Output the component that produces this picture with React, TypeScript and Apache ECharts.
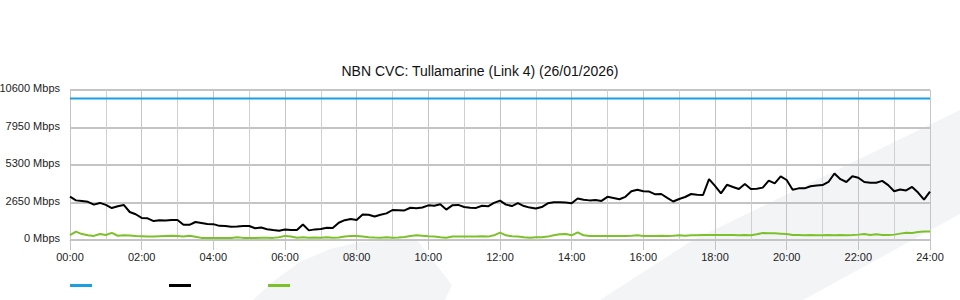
import React, { useEffect, useRef } from "react";
import * as echarts from "echarts";

const TITLE = "NBN CVC: Tullamarine (Link 4) (26/01/2026)";
const STEP_MIN = 10;
const CAPACITY = 10000;
const Y_MAX = 10600;
const Y_STEP = 2650;

// download (Mbps) every 10 min from 00:00 to 24:00
const download = [
  3060, 2800, 2760, 2700, 2500, 2620,
  2480, 2260, 2380, 2480, 1980, 1820,
  1560, 1530, 1340, 1400, 1380, 1413,
  1413, 1080, 1070, 1270, 1200, 1130,
  1120, 1000, 990, 940, 950, 990,
  990, 830, 880, 760, 700, 660,
  740, 700, 700, 1100, 680, 750,
  780, 860, 850, 1220, 1400, 1480,
  1420, 1800, 1780, 1660, 1780, 1880,
  2120, 2110, 2090, 2280, 2250, 2300,
  2450, 2420, 2520, 2150, 2450, 2480,
  2330, 2280, 2270, 2420, 2380, 2620,
  2780, 2500, 2400, 2600, 2400, 2290,
  2220, 2330, 2590, 2670, 2660, 2650,
  2600, 2930, 2840, 2800, 2820, 2760,
  3050, 2970, 2880, 3050, 3450, 3550,
  3450, 3420, 3230, 3250, 2980, 2720,
  2900, 3040, 3250, 3200, 3180, 4300,
  3820, 3300, 3900, 3750, 3600, 3950,
  3600, 3620, 3700, 4200, 4000, 4500,
  4240, 3550, 3650, 3650, 3800, 3850,
  3880, 4100, 4700, 4300, 4100, 4500,
  4400, 4100, 4050, 4050, 4180, 3880,
  3450, 3570, 3500, 3750, 3350, 2850,
  3415,
];

// upload (Mbps) every 10 min from 00:00 to 24:00
const upload = [
  350, 590, 420, 330, 290, 420,
  350, 500, 300, 330, 320, 290,
  270, 240, 240, 260, 280, 300,
  290, 250, 300, 230, 150, 140,
  140, 140, 140, 140, 200, 150,
  150, 150, 165, 165, 150, 200,
  290, 250, 165, 200, 165, 180,
  165, 200, 165, 180, 240, 290,
  280, 240, 200, 180, 165, 200,
  165, 180, 220, 280, 330, 300,
  260, 240, 200, 165, 240, 240,
  240, 240, 240, 260, 240, 330,
  520, 330, 260, 240, 200, 165,
  200, 200, 240, 330, 400, 420,
  330, 540, 330, 280, 280, 280,
  280, 290, 280, 280, 300, 330,
  290, 280, 280, 300, 280, 300,
  330, 300, 330, 340, 350, 350,
  350, 350, 350, 350, 340, 350,
  340, 400, 500, 480, 470, 450,
  420, 360, 350, 340, 350, 340,
  340, 360, 330, 350, 340, 350,
  380, 420, 350, 400, 350, 350,
  380, 450, 520, 500, 560, 600,
  600,
];

const hourOf = (i: number) => (i * STEP_MIN) / 60;

export default function App() {
  const ref = useRef<HTMLDivElement>(null);
  useEffect(() => {
    if (!ref.current) return;
    const chart = echarts.init(ref.current, null, { renderer: "svg" });
    const font = "'Liberation Sans', Arial, sans-serif";
    const gridColor = "#c4c4c4";
    chart.setOption({
      animation: false,
      backgroundColor: "#ffffff",
      textStyle: { fontFamily: font },
      title: {
        text: TITLE,
        left: "center",
        top: 59,
        textStyle: { fontFamily: font, fontSize: 14, fontWeight: "normal", color: "#111" },
      },
      graphic: [
        {
          type: "polygon",
          z: -10,
          silent: true,
          shape: { points: [[253, 300], [275, 280], [300, 262], [330, 249], [360, 242], [417, 240], [452, 285], [445, 300]] },
          style: { fill: "#f3f4f6" },
        },
        {
          type: "polygon",
          z: -10,
          silent: true,
          shape: { points: [[600, 300], [693, 240], [960, 110], [960, 214], [803, 300]] },
          style: { fill: "#f3f4f6" },
        },
      ],
      legend: {
        left: 65,
        top: 279,
        icon: "rect",
        itemWidth: 22,
        itemHeight: 3,
        itemGap: 77,
        formatter: () => "",
        selectedMode: false,
        data: ["Capacity", "Download", "Upload"],
      },
      grid: { left: 70, right: 30, top: 90, bottom: 60, containLabel: false, outerBoundsMode: "none" },
      xAxis: {
        type: "value",
        min: 0,
        max: 24,
        interval: 2,
        axisLine: { show: true, lineStyle: { color: gridColor, width: 1 } },
        axisTick: { show: true, length: 10, lineStyle: { color: gridColor } },
        axisLabel: {
          margin: 11,
          fontSize: 11,
          color: "#222",
          fontFamily: font,
          formatter: (v: number) => `${String(v).padStart(2, "0")}:00`,
        },
        splitLine: { show: true, lineStyle: { color: gridColor, width: 1 } },
        minorTick: { show: false, splitNumber: 2 },
        minorSplitLine: { show: true, lineStyle: { color: "#d0d0d0", width: 1 } },
      },
      yAxis: {
        type: "value",
        min: 0,
        max: Y_MAX,
        interval: Y_STEP,
        axisLine: { show: false },
        axisTick: { show: false },
        axisLabel: {
          margin: 10,
          fontSize: 11,
          color: "#222",
          fontFamily: font,
          verticalAlign: "bottom",
          lineHeight: 4,
          formatter: (v: number) => `${v} Mbps`,
        },
        splitLine: { show: true, lineStyle: { color: gridColor, width: 2 } },
      },
      series: [
        {
          name: "Capacity",
          type: "line",
          showSymbol: false,
          color: "#1c9fe0",
          lineStyle: { width: 2, color: "#1c9fe0" },
          data: [[0, CAPACITY], [24, CAPACITY]],
          z: 3,
        },
        {
          name: "Download",
          type: "line",
          showSymbol: false,
          color: "#000000",
          lineStyle: { width: 2, color: "#000000" },
          data: download.map((v, i) => [hourOf(i), v]),
          z: 4,
        },
        {
          name: "Upload",
          type: "line",
          showSymbol: false,
          color: "#7cc12a",
          lineStyle: { width: 2, color: "#7cc12a" },
          data: upload.map((v, i) => [hourOf(i), v]),
          z: 3,
        },
      ],
    });
    return () => chart.dispose();
  }, []);
  return <div ref={ref} style={{ width: 960, height: 300, position: "absolute", left: 0, top: 0 }} />;
}
